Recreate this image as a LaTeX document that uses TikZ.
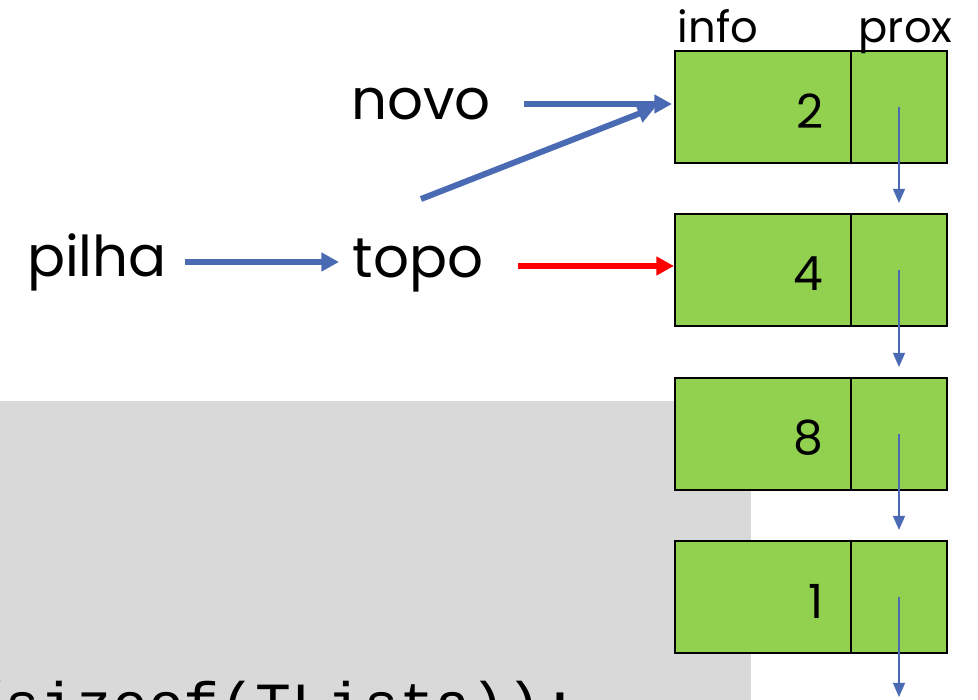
\documentclass[tikz,border=0pt]{standalone}
\usepackage{fontspec}
\setmainfont{Poppins}
\setmonofont{Liberation Mono}
\usetikzlibrary{arrows.meta,calc}
\definecolor{cellgreen}{HTML}{92D050}
\definecolor{ptrblue}{HTML}{4A6BB3}
\definecolor{codegray}{HTML}{D9D9D9}
\tikzset{
  cellinfo/.style={draw=black, line width=0.55pt, fill=cellgreen, minimum width=1.76cm, minimum height=1.12cm, inner sep=0},
  cellprox/.style={draw=black, line width=0.55pt, fill=cellgreen, minimum width=0.96cm, minimum height=1.12cm, inner sep=0},
  numtext/.style={font=\fontsize{13.4}{16}\selectfont, anchor=east, inner sep=0},
  fieldlbl/.style={font=\fontsize{12.3}{14}\selectfont, anchor=base west, inner sep=0},
  varlbl/.style={font=\fontsize{16}{19}\selectfont, inner sep=0},
  nextptr/.style={draw=ptrblue, line width=0.43pt, -{Triangle[length=4pt,width=3.4pt]}},
  medptr/.style={draw=ptrblue, line width=1.5pt, -{Triangle[length=5pt,width=5.1pt]}},
  fatptr/.style={draw=ptrblue, line width=1.7pt, -{Triangle[length=5pt,width=5.1pt]}},
  redptr/.style={draw=red, line width=1.7pt, -{Triangle[length=5pt,width=5.1pt]}},
}
\begin{document}
\begin{tikzpicture}[x=0.01cm,y=-0.01cm]
\useasboundingbox (0,0) rectangle (978,700);
\clip (0,0) rectangle (978,700);
% code background
\fill[codegray] (0,401) rectangle (751,720);
\node[anchor=base west, font=\ttfamily\fontsize{17}{20}\selectfont, inner sep=0] (code) at (-32,724) {/sizeof(TLista));};
% list cells
\foreach \k/\y/\v in {1/107/2, 2/270/4, 3/434/8, 4/597/1}{
  \node[cellinfo] (i\k) at (763,\y) {};
  \node[cellprox] (p\k) at (899,\y) {};
  \node[numtext] (n\k) at (824,\y+4) {\v};
}
\node[fieldlbl] (linfo) at (677,42) {info};
\node[fieldlbl] (lprox) at (858,42) {prox};
% next pointers
\draw[nextptr] (p1.center) -- ([yshift=0.1cm]p2.north);
\draw[nextptr] (p2.center) -- ([yshift=0.1cm]p3.north);
\draw[nextptr] (p3.center) -- ([yshift=0.1cm]p4.north);
\coordinate (tail) at (899,697);
\draw[nextptr] (p4.center) -- (tail);
% variables
\node[varlbl] (pilha) at (97,262) {pilha};
\node[varlbl] (topo) at (418,266) {topo};
\node[varlbl] (novo) at (421,104) {novo};
\draw[medptr, shorten <=0.17cm, shorten >=0.13cm] (pilha.east) -- (topo.west |- pilha.east);
\draw[fatptr, shorten <=0.32cm, shorten >=0.02cm] (novo.east) -- (i1.west |- novo.east);
\draw[redptr, shorten <=0.34cm] (topo.east) -- (i2.west |- topo.east);
\coordinate (dstart) at (421,199);
\draw[fatptr, shorten >=0.2cm] (dstart) -- ([yshift=0.07cm]i1.west);
\end{tikzpicture}
\end{document}
